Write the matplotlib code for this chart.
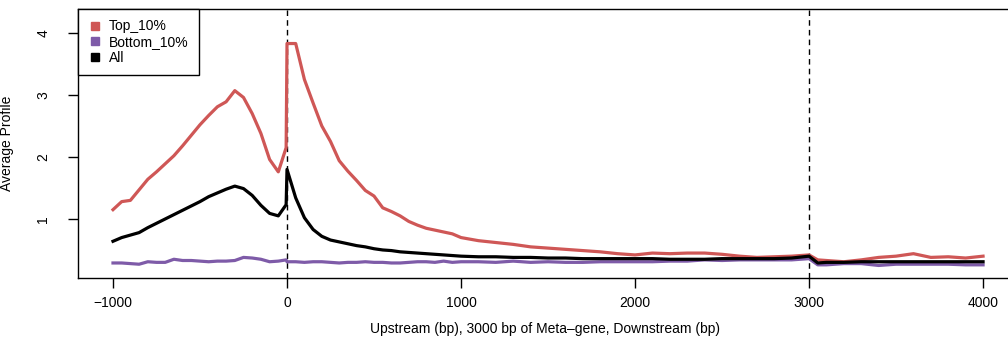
import matplotlib
matplotlib.use("Agg")
import matplotlib.pyplot as plt
from matplotlib.lines import Line2D

plt.rcParams['font.family'] = ['Liberation Sans', 'DejaVu Sans']
plt.rcParams['axes.unicode_minus'] = True

positions = [-1000, -950, -900, -850, -800, -750, -700, -650, -600, -550,
             -500, -450, -400, -350, -300, -250, -200, -150, -100, -50,
             -5, 0, 50, 100, 150, 200, 250, 300, 350, 400,
             450, 500, 550, 600, 650, 700, 750, 800, 850, 900,
             950, 1000, 1100, 1200, 1300, 1400, 1500, 1600, 1700, 1800,
             1900, 2000, 2100, 2200, 2300, 2400, 2500, 2600, 2700, 2800,
             2900, 3000, 3050, 3100, 3200, 3300, 3400, 3500, 3600, 3700,
             3800, 3900, 4000]

top_10 = [1.15, 1.28, 1.30, 1.47, 1.64, 1.76, 1.89, 2.02, 2.18, 2.35,
          2.52, 2.67, 2.81, 2.89, 3.07, 2.96, 2.70, 2.38, 1.96, 1.76,
          2.15, 3.83, 3.83, 3.25, 2.87, 2.50, 2.25, 1.94, 1.77, 1.62,
          1.46, 1.37, 1.18, 1.12, 1.05, 0.96, 0.90, 0.85, 0.82, 0.79,
          0.76, 0.70, 0.65, 0.62, 0.59, 0.55, 0.53, 0.51, 0.49, 0.47,
          0.44, 0.42, 0.45, 0.44, 0.45, 0.45, 0.43, 0.40, 0.38, 0.39,
          0.40, 0.42, 0.34, 0.33, 0.31, 0.34, 0.38, 0.40, 0.44, 0.38,
          0.39, 0.37, 0.40]

bottom_10 = [0.29, 0.29, 0.28, 0.27, 0.31, 0.30, 0.30, 0.35, 0.33, 0.33,
             0.32, 0.31, 0.32, 0.32, 0.33, 0.38, 0.37, 0.35, 0.31, 0.32,
             0.34, 0.31, 0.31, 0.30, 0.31, 0.31, 0.30, 0.29, 0.30, 0.30,
             0.31, 0.30, 0.30, 0.29, 0.29, 0.30, 0.31, 0.31, 0.30, 0.32,
             0.30, 0.31, 0.31, 0.30, 0.32, 0.30, 0.31, 0.30, 0.30, 0.31,
             0.31, 0.31, 0.31, 0.32, 0.32, 0.34, 0.33, 0.34, 0.34, 0.34,
             0.34, 0.36, 0.26, 0.26, 0.28, 0.28, 0.25, 0.27, 0.27, 0.27,
             0.27, 0.26, 0.26]

all_genes = [0.64, 0.70, 0.74, 0.78, 0.86, 0.93, 1.00, 1.07, 1.14, 1.21,
             1.28, 1.36, 1.42, 1.48, 1.53, 1.49, 1.38, 1.22, 1.09, 1.05,
             1.23, 1.80, 1.34, 1.02, 0.83, 0.72, 0.66, 0.63, 0.60, 0.57,
             0.55, 0.52, 0.50, 0.49, 0.47, 0.46, 0.45, 0.44, 0.43, 0.42,
             0.41, 0.40, 0.39, 0.39, 0.38, 0.38, 0.37, 0.37, 0.36, 0.36,
             0.36, 0.36, 0.36, 0.35, 0.35, 0.35, 0.36, 0.36, 0.36, 0.36,
             0.37, 0.40, 0.29, 0.30, 0.30, 0.31, 0.31, 0.31, 0.31, 0.31,
             0.31, 0.31, 0.31]

series_names = ["Top_10%", "Bottom_10%", "All"]
series_colors = ["#CF5756", "#7E5BA8", "#000000"]
x_ticks = [-1000, 0, 1000, 2000, 3000, 4000]
y_ticks = [1, 2, 3, 4]
boundaries = [0, 3000]

fig = plt.figure(figsize=(10.08, 3.41), dpi=100)
ax = fig.add_axes([0.0774, 0.1848, 0.9272, 0.7888])

ax.plot(positions, top_10, color=series_colors[0], lw=2.3, solid_joinstyle='round', zorder=3)
ax.plot(positions, bottom_10, color=series_colors[1], lw=2.3, solid_joinstyle='round', zorder=3)
ax.plot(positions, all_genes, color=series_colors[2], lw=2.3, solid_joinstyle='round', zorder=4)

for b in boundaries:
    ax.axvline(b, color='black', lw=1.0, ls=(0, (4, 3)), zorder=2)

ax.set_xlim(-1201, 4170)
ax.set_ylim(0.048, 4.387)
ax.set_xticks(x_ticks)
ax.set_xticklabels([f"{t:d}".replace("-", "\u2212") for t in x_ticks])
ax.set_yticks(y_ticks)
ax.set_yticklabels([str(t) for t in y_ticks], rotation=90, va='center')

ax.tick_params(axis='x', length=7, width=1, pad=6, labelsize=10)
ax.tick_params(axis='y', length=7, width=1, pad=13, labelsize=10)
for s in ax.spines.values():
    s.set_linewidth(1.0)

ax.set_xlabel("Upstream (bp), 3000 bp of Meta\u2013gene, Downstream (bp)", fontsize=10)
ax.xaxis.set_label_coords(0.5, -0.165)
ax.set_ylabel("Average Profile", fontsize=10)
ax.yaxis.set_label_coords(-0.068, 0.5)

handles = [Line2D([], [], ls='none', marker='s', markersize=6, color=c) for c in series_colors]
leg = ax.legend(handles, series_names, loc='upper left', bbox_to_anchor=(0, 1),
                borderaxespad=0, fancybox=False, edgecolor='black', framealpha=1,
                fontsize=10, labelspacing=0.12, handlelength=0.9, handletextpad=0.55,
                borderpad=0.75)
leg.get_frame().set_linewidth(1.0)

fig.savefig("out.png", dpi=100)
